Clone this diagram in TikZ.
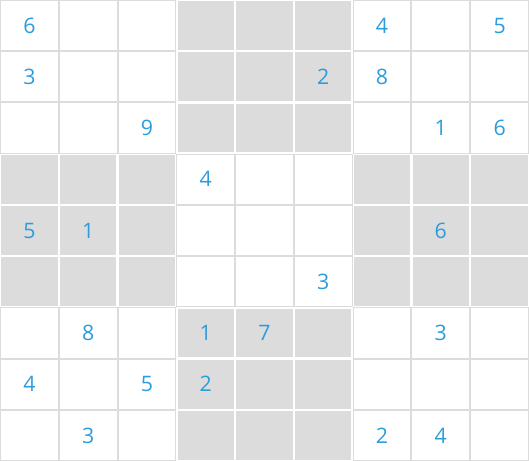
\documentclass[tikz,border=0pt]{standalone}
\usepackage{fontspec}
\setmainfont{Open Sans}
\definecolor{cellline}{HTML}{DCDCDC}
\definecolor{boxgray}{HTML}{DCDCDC}
\definecolor{digitblue}{HTML}{2D9CDB}
\tikzset{
    cell/.style={draw=cellline,line width=0.75pt},
    shaded/.style={fill=boxgray},
    digit/.style={text=digitblue,font=\fontsize{16}{16}\selectfont}
}
\begin{document}
\begin{tikzpicture}[x=44.0833pt,y=-38.4167pt]
        \useasboundingbox (0,0) rectangle (9,9);

        % Cells
        \foreach \r in {0,...,8}
            \foreach \c in {0,...,8}
                \draw [cell] ([shift={(0.375pt,-0.375pt)}]\c,\r) rectangle ([shift={(-0.375pt,0.375pt)}]\c+1,\r+1);

        % Grey boxes
        \foreach \bc/\br in {3/0,0/3,6/3,3/6}
            \foreach \i in {0,1,2}
                \foreach \j in {0,1,2} {
                    \fill [white] (\bc+\i,\br+\j) rectangle (\bc+\i+1,\br+\j+1);
                    \fill [shaded] ([shift={(0.9pt,-0.9pt)}]\bc+\i,\br+\j) rectangle ([shift={(-0.9pt,0.9pt)}]\bc+\i+1,\br+\j+1);
                }

        % Row 1
        \node[digit] (r0c0) at (0.5,0.5) {6};
        \node[digit] (r0c6) at (6.5,0.5) {4};
        \node[digit] (r0c8) at (8.5,0.5) {5};

        % Row 2
        \node[digit] (r1c0) at (0.5,1.5) {3};
        \node[digit] (r1c5) at (5.5,1.5) {2};
        \node[digit] (r1c6) at (6.5,1.5) {8};

        % Row 3
        \node[digit] (r2c2) at (2.5,2.5) {9};
        \node[digit] (r2c7) at (7.5,2.5) {1};
        \node[digit] (r2c8) at (8.5,2.5) {6};

        % Row 4
        \node[digit] (r3c3) at (3.5,3.5) {4};

        % Row 5
        \node[digit] (r4c0) at (0.5,4.5) {5};
        \node[digit] (r4c1) at (1.5,4.5) {1};
        \node[digit] (r4c7) at (7.5,4.5) {6};

        % Row 6
        \node[digit] (r5c5) at (5.5,5.5) {3};

        % Row 7
        \node[digit] (r6c1) at (1.5,6.5) {8};
        \node[digit] (r6c3) at (3.5,6.5) {1};
        \node[digit] (r6c4) at (4.5,6.5) {7};
        \node[digit] (r6c7) at (7.5,6.5) {3};

        % Row 8
        \node[digit] (r7c0) at (0.5,7.5) {4};
        \node[digit] (r7c2) at (2.5,7.5) {5};
        \node[digit] (r7c3) at (3.5,7.5) {2};

        % Row 9
        \node[digit] (r8c1) at (1.5,8.5) {3};
        \node[digit] (r8c6) at (6.5,8.5) {2};
        \node[digit] (r8c7) at (7.5,8.5) {4};
\end{tikzpicture}
\end{document}
